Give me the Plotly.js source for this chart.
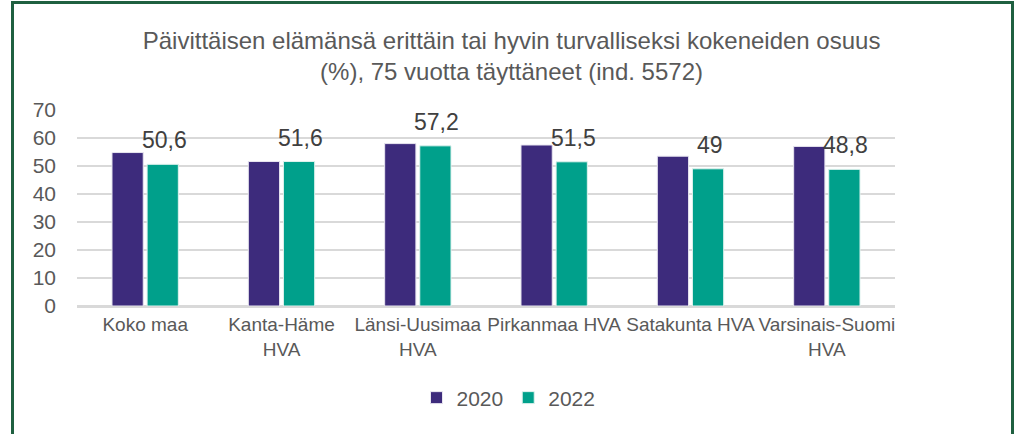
<!DOCTYPE html>
<html>
<head>
<meta charset="utf-8">
<script src="https://cdn.plot.ly/plotly-3.0.1.min.js"></script>
<style>
  html, body { margin: 0; padding: 0; background: #ffffff; }
  #wrap { position: relative; width: 1017px; height: 434px; overflow: hidden; }
  #chart { width: 1017px; height: 434px; }
  #frame { position: absolute; left: 11px; top: 1px; width: 997px; height: 460px;
           border: 3px solid #1f6040; pointer-events: none; box-sizing: content-box; }
</style>
</head>
<body>
<div id="wrap">
  <div id="chart"></div>
  <div id="frame"></div>
</div>
<script>
const categories = ["Koko maa", "Kanta-Häme<br>HVA", "Länsi-Uusimaa<br>HVA", "Pirkanmaa HVA", "Satakunta HVA", "Varsinais-Suomi<br>HVA"];
const values2020 = [54.8, 51.6, 58.0, 57.5, 53.5, 57.0];
const values2022 = [50.6, 51.6, 57.2, 51.5, 49, 48.8];
const labels2022 = ["50,6", "51,6", "57,2", "51,5", "49", "48,8"];
const seriesNames = ["2020", "2022"];
const yTicks = [0, 10, 20, 30, 40, 50, 60, 70];

const fontFamily = "Liberation Sans, Arial, sans-serif";
const textColor = "#595959";

const traces = [
  {
    type: "bar", name: seriesNames[0], x: categories, y: values2020,
    marker: { color: "#3d2b7c", line: { color: "#e8e6f0", width: 1 } },
    hoverinfo: "skip"
  },
  {
    type: "bar", name: seriesNames[1], x: categories, y: values2022,
    marker: { color: "#00a08b", line: { color: "#dff2ee", width: 1 } },
    hoverinfo: "skip"
  }
];

const annotations = categories.map((c, i) => ({
  x: c, y: values2022[i], xref: "x", yref: "y",
  text: labels2022[i], showarrow: false,
  xanchor: "center", yanchor: "bottom",
  xshift: 19, yshift: 9,
  font: { family: fontFamily, size: 23, color: "#404040" }
}));

const layout = {
  width: 1017, height: 434,
  paper_bgcolor: "#ffffff", plot_bgcolor: "#ffffff",
  margin: { l: 77, r: 122, t: 110, b: 128 },
  title: {
    text: "Päivittäisen elämänsä erittäin tai hyvin turvalliseksi kokeneiden osuus<br>(%), 75 vuotta täyttäneet (ind. 5572)",
    font: { family: fontFamily, size: 24, color: textColor },
    x: 0.503, xref: "container", xanchor: "center",
    y: 0.887, yref: "container", yanchor: "top"
  },
  bargap: 0.485,
  bargroupgap: 0.11,
  xaxis: {
    type: "category",
    tickfont: { family: fontFamily, size: 19, color: textColor },
    showgrid: false, showline: true, linecolor: "#d9d9d9", linewidth: 2,
    ticks: "", tickangle: 0, automargin: false
  },
  yaxis: {
    range: [0, 70], tickvals: yTicks, ticktext: yTicks.map(String),
    tickfont: { family: fontFamily, size: 21, color: textColor },
    showgrid: true, gridcolor: "#d9d9d9", gridwidth: 2,
    zeroline: true, zerolinecolor: "#d9d9d9", zerolinewidth: 2,
    showline: false, ticks: "", ticklen: 0, ticklabelstandoff: 20,
    automargin: false, fixedrange: true
  },
  showlegend: true,
  legend: {
    orientation: "h", x: 0.5, xanchor: "center", xref: "container",
    y: 0.083, yref: "container", yanchor: "middle",
    font: { family: fontFamily, size: 21, color: textColor },
    itemwidth: 30, traceorder: "normal"
  },
  annotations: annotations
};

Plotly.newPlot("chart", traces, layout, { displayModeBar: false, staticPlot: true });
</script>
</body>
</html>
